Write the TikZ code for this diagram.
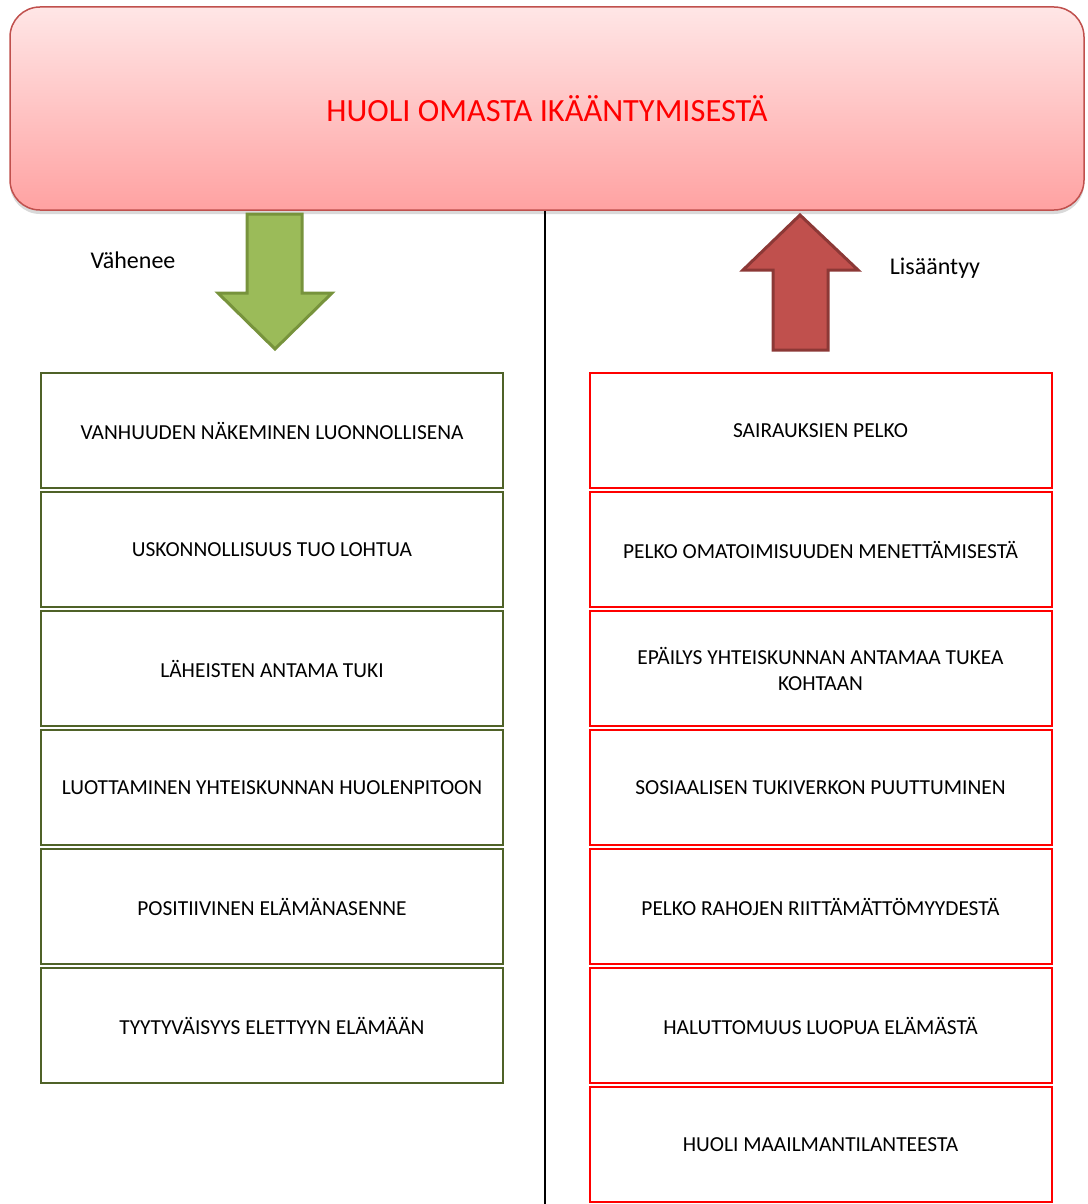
\documentclass[tikz,border=0pt]{standalone}
\usepackage{fontspec}
\setmainfont{Carlito}
\usepackage{xcolor}
\usetikzlibrary{positioning,shadows}

\definecolor{olivegr}{HTML}{4F6228}
\definecolor{greenfill}{HTML}{9BBB59}
\definecolor{greenline}{HTML}{77933C}
\definecolor{redfill}{HTML}{C0504D}
\definecolor{redline}{HTML}{8C3836}
\definecolor{pinktop}{HTML}{FFE6E6}
\definecolor{pinkbot}{HTML}{FFA2A2}

\begin{document}
\begin{tikzpicture}[x=1pt,y=-1pt,node distance=2pt,
    every node/.style={inner sep=0pt},
    lbox/.style={draw=olivegr, line width=2pt, minimum width=462pt, minimum height=115pt,
        align=center, font=\fontsize{21.4}{26}\selectfont},
    rbox/.style={lbox, draw=red},
    blockarrow/.style={line width=3pt, line join=miter}]
        \useasboundingbox (0,0) rectangle (1087,1204);

        % otsikko
        \node (banner) [draw=redfill, line width=1.5pt, rounded corners=30pt,
            top color=pinktop, bottom color=pinkbot,
            drop shadow={shadow xshift=0pt, shadow yshift=-4pt, opacity=.3},
            minimum width=1074pt, minimum height=203pt,
            text=red, font=\fontsize{32.4}{38}\selectfont] at (547,108.5)
            {HUOLI OMASTA IKÄÄNTYMISESTÄ};

        \coordinate (bot) at (545,1204);
        \draw[line width=1.5pt] (banner.south -| bot) -- (bot);

        % nuolet
        \draw[blockarrow, fill=greenfill, draw=greenline]
            (247,214) -- (302,214) -- (302,293) -- (332,293) -- (275,349)
            -- (218,293) -- (247,293) -- cycle;
        \draw[blockarrow, fill=redfill, draw=redline]
            (800,215) -- (858,270) -- (828,270) -- (828,350) -- (773,350)
            -- (773,270) -- (743,270) -- cycle;

        \node (less) [font=\fontsize{24}{28}\selectfont] at (133,260) {Vähenee};
        \node (more) [font=\fontsize{24}{28}\selectfont] at (935,268) {Lisääntyy};

        % vasen sarake
        \node (lA) [lbox] at (272,430.5) {VANHUUDEN NÄKEMINEN LUONNOLLISENA};
        \node (lB) [lbox, below=of lA] {USKONNOLLISUUS TUO LOHTUA};
        \node (lC) [lbox, below=of lB] {LÄHEISTEN ANTAMA TUKI};
        \node (lD) [lbox, below=of lC] {LUOTTAMINEN YHTEISKUNNAN HUOLENPITOON};
        \node (lE) [lbox, below=of lD] {POSITIIVINEN ELÄMÄNASENNE};
        \node (lF) [lbox, below=of lE] {TYYTYVÄISYYS ELETTYYN ELÄMÄÄN};

        % oikea sarake
        \node (rA) [rbox] at (820.5,430.5) {SAIRAUKSIEN PELKO};
        \node (rB) [rbox, below=of rA] {PELKO OMATOIMISUUDEN MENETTÄMISESTÄ};
        \node (rC) [rbox, below=of rB] {EPÄILYS YHTEISKUNNAN ANTAMAA TUKEA\\KOHTAAN};
        \node (rD) [rbox, below=of rC] {SOSIAALISEN TUKIVERKON PUUTTUMINEN};
        \node (rE) [rbox, below=of rD] {PELKO RAHOJEN RIITTÄMÄTTÖMYYDESTÄ};
        \node (rF) [rbox, below=of rE] {HALUTTOMUUS LUOPUA ELÄMÄSTÄ};
        \node (rG) [rbox, below=of rF] {HUOLI MAAILMANTILANTEESTA};
    \end{tikzpicture}
\end{document}
